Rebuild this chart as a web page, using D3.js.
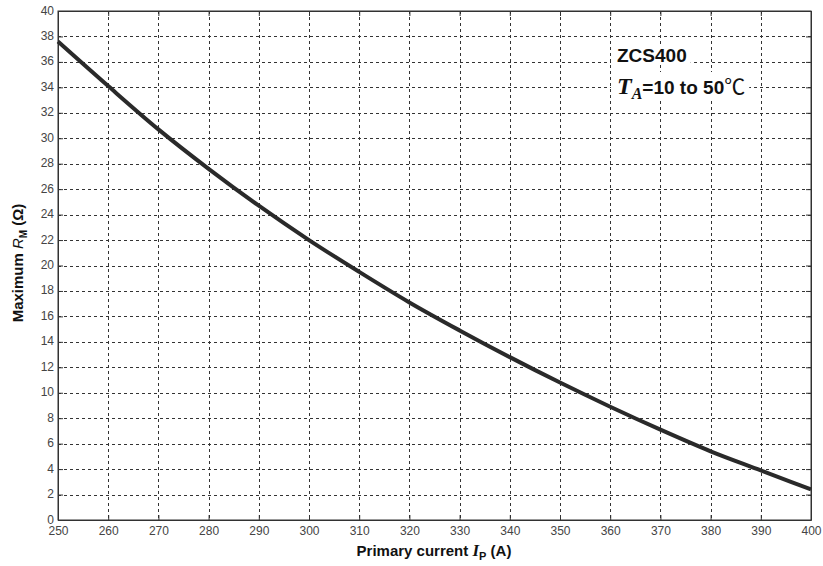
<!DOCTYPE html>
<html>
<head>
<meta charset="utf-8">
<script src="https://cdn.jsdelivr.net/npm/d3@7"></script>
<style>
  body { margin: 0; background: #fff; }
  text { font-family: "Liberation Sans", Arial, sans-serif; }
</style>
</head>
<body>
<script>
var current = [250, 260, 270, 280, 290, 300, 310, 320, 330, 340, 350, 360, 370, 380, 390, 400];
var maxRm = [37.6, 34.1, 30.7, 27.6, 24.7, 22.0, 19.5, 17.1, 14.9, 12.8, 10.8, 8.9, 7.1, 5.4, 3.9, 2.4];
var xTicks = d3.range(250, 401, 10);
var yTicks = d3.range(0, 41, 2);

var W = 823, H = 566;
var plotL = 58, plotR = 811, plotT = 11, plotB = 520;

var svg = d3.select('body').append('svg').attr('width', W).attr('height', H);

var x = d3.scaleLinear().domain([250, 400]).range([plotL, plotR]);
var y = d3.scaleLinear().domain([0, 40]).range([plotB, plotT]);

// grid
var grid = svg.append('g').attr('stroke', '#333').attr('stroke-width', 1)
  .attr('stroke-dasharray', '3,3');
xTicks.slice(1, -1).forEach(function(t) {
  grid.append('line').attr('x1', Math.round(x(t)) + 0.5).attr('x2', Math.round(x(t)) + 0.5)
    .attr('y1', plotT).attr('y2', plotB);
});
yTicks.slice(1, -1).forEach(function(t) {
  grid.append('line').attr('y1', Math.round(y(t)) + 0.5).attr('y2', Math.round(y(t)) + 0.5)
    .attr('x1', plotL).attr('x2', plotR);
});

// axes, matlab style ticks inside
var xAxis = svg.append('g').attr('transform', 'translate(0,' + plotB + ')')
  .call(d3.axisBottom(x).tickValues(xTicks).tickSizeInner(-5).tickSizeOuter(0).tickPadding(4));
var yAxis = svg.append('g').attr('transform', 'translate(' + plotL + ',0)')
  .call(d3.axisLeft(y).tickValues(yTicks).tickSizeInner(-5).tickSizeOuter(0).tickPadding(4));
svg.append('g').attr('transform', 'translate(0,' + plotT + ')')
  .call(d3.axisTop(x).tickValues(xTicks).tickSizeInner(-5).tickSizeOuter(0).tickFormat(''));
svg.append('g').attr('transform', 'translate(' + plotR + ',0)')
  .call(d3.axisRight(y).tickValues(yTicks).tickSizeInner(-5).tickSizeOuter(0).tickFormat(''));

svg.selectAll('.domain').attr('stroke', '#333');
svg.selectAll('.tick line').attr('stroke', '#333');
svg.selectAll('.tick text').attr('font-size', 12).attr('fill', '#444')
  .attr('font-family', '"Liberation Sans", Arial, sans-serif');
xAxis.selectAll('.tick text').attr('dy', '0.95em');
yAxis.selectAll('.tick text').attr('dy', '0.25em');

// box
svg.append('rect').attr('x', plotL).attr('y', plotT).attr('width', plotR - plotL)
  .attr('height', plotB - plotT).attr('fill', 'none').attr('stroke', '#333');

// curve
var line = d3.line().curve(d3.curveMonotoneX)
  .x(function(d, i) { return x(current[i]); })
  .y(function(d) { return y(d); });
svg.append('path').datum(maxRm).attr('d', line)
  .attr('fill', 'none').attr('stroke', '#2a2a2a').attr('stroke-width', 4);

// labels
var xl = svg.append('text').attr('x', 434).attr('y', 556).attr('text-anchor', 'middle')
  .attr('font-size', 15).attr('font-weight', 'bold').attr('fill', '#111');
xl.append('tspan').text('Primary current ');
xl.append('tspan').attr('font-family', '"Liberation Serif", serif').attr('font-style', 'italic')
  .attr('font-size', 17).text('I');
xl.append('tspan').attr('font-size', 11).attr('dy', 4).text('P');
xl.append('tspan').attr('dy', -4).text(' (A)');

var yl = svg.append('text').attr('transform', 'translate(23,' + 263 + ') rotate(-90)')
  .attr('text-anchor', 'middle').attr('font-size', 15).attr('font-weight', 'bold').attr('fill', '#111');
yl.append('tspan').text('Maximum ');
yl.append('tspan').attr('font-style', 'italic').attr('font-weight', 'normal').text('R');
yl.append('tspan').attr('font-size', 10).attr('dy', 4).text('M');
yl.append('tspan').attr('dy', -4).text(' (Ω)');

// annotation (white box behind each line, grid hidden under it)
var annG = svg.append('g');
var t1 = annG.append('text').attr('x', 617).attr('y', 62).attr('font-size', 19).attr('font-weight', 'bold')
  .attr('font-family', '"Open Sans", sans-serif').attr('fill', '#111').text('ZCS400');
var ann = annG.append('text').attr('x', 617).attr('y', 94).attr('font-size', 19)
  .attr('font-weight', 'bold').attr('font-family', '"Open Sans", sans-serif').attr('fill', '#111');
ann.append('tspan').attr('font-family', '"Liberation Serif", serif').attr('font-style', 'italic')
  .attr('font-size', 24).text('T');
ann.append('tspan').attr('font-family', '"Liberation Serif", serif').attr('font-style', 'italic')
  .attr('font-size', 16).attr('dy', 5).text('A');
ann.append('tspan').attr('dy', -5).text('=10 to 50');
ann.append('tspan').attr('font-weight', 'normal').attr('font-size', 21)
  .attr('font-family', '"Noto Sans CJK SC", serif').text('℃');

[t1, ann].forEach(function(t) {
  var b = t.node().getBBox();
  annG.insert('rect', function() { return t.node(); })
    .attr('x', b.x - 6).attr('y', b.y + 2).attr('width', b.width + 10).attr('height', b.height - 3)
    .attr('fill', '#fff');
});
</script>
</body>
</html>
